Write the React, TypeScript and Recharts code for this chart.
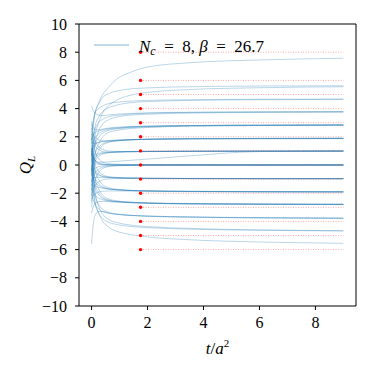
import { ComposedChart, Line, XAxis, YAxis, ReferenceLine, ReferenceDot, Label } from "recharts";

// flow time grid (t/a^2) on which every curve is sampled
const FLOW_T = [0, 0.05, 0.12, 0.25, 0.4, 0.6, 0.9, 1.3, 2, 3.5, 6, 9];

// Q_L(t) per configuration
const CURVES: number[][] = [
    [2.0, 2.8, 3.6, 4.4, 5.0, 5.5, 6.1, 6.5, 6.95, 7.25, 7.45, 7.57],
    [1.5, 2.6, 3.7, 4.3, 4.8, 5.05, 5.25, 5.38, 5.47, 5.55, 5.6, 5.62],
    [-0.5, 0.8, 2.0, 3.0, 3.7, 4.2, 4.6, 4.9, 5.15, 5.35, 5.48, 5.55],
    [2.5, 3.1, 3.7, 4.0, 4.2, 4.35, 4.45, 4.52, 4.58, 4.63, 4.66, 4.68],
    [0.3, 1.6, 2.7, 3.4, 3.8, 4.05, 4.25, 4.4, 4.5, 4.58, 4.63, 4.65],
    [4.2, 3.9, 3.7, 3.55, 3.5, 3.55, 3.6, 3.65, 3.7, 3.74, 3.77, 3.78],
    [1.0, 1.8, 2.5, 3.0, 3.25, 3.42, 3.52, 3.6, 3.67, 3.73, 3.76, 3.78],
    [-1.2, 0.2, 1.4, 2.4, 2.9, 3.2, 3.4, 3.52, 3.6, 3.68, 3.73, 3.75],
    [2.9, 2.7, 2.5, 2.5, 2.55, 2.62, 2.68, 2.72, 2.76, 2.8, 2.83, 2.84],
    [0.6, 1.3, 1.9, 2.2, 2.4, 2.52, 2.6, 2.67, 2.73, 2.79, 2.82, 2.84],
    [-2.0, -0.6, 0.7, 1.5, 2.0, 2.3, 2.45, 2.57, 2.66, 2.75, 2.8, 2.83],
    [1.8, 2.1, 2.3, 2.4, 2.5, 2.58, 2.64, 2.7, 2.75, 2.8, 2.83, 2.85],
    [-0.4, 0.6, 1.4, 1.95, 2.25, 2.45, 2.56, 2.64, 2.7, 2.77, 2.8, 2.82],
    [2.4, 2.2, 2.0, 1.78, 1.7, 1.7, 1.74, 1.78, 1.82, 1.86, 1.88, 1.89],
    [-0.8, 0.1, 0.8, 1.25, 1.5, 1.64, 1.72, 1.78, 1.82, 1.86, 1.88, 1.89],
    [0.9, 1.2, 1.45, 1.6, 1.68, 1.73, 1.77, 1.8, 1.83, 1.86, 1.87, 1.88],
    [-2.6, -1.2, 0.2, 1.0, 1.4, 1.6, 1.7, 1.77, 1.83, 1.87, 1.89, 1.9],
    [1.6, 1.55, 1.55, 1.6, 1.66, 1.71, 1.75, 1.79, 1.82, 1.85, 1.86, 1.87],
    [2.2, 1.8, 1.4, 1.1, 0.95, 0.92, 0.93, 0.95, 0.96, 0.97, 0.98, 0.99],
    [-1.5, -0.6, 0.2, 0.6, 0.78, 0.86, 0.9, 0.93, 0.95, 0.97, 0.98, 0.99],
    [0.2, 0.5, 0.7, 0.82, 0.88, 0.91, 0.93, 0.95, 0.96, 0.97, 0.98, 0.98],
    [0.8, 0.5, 0.3, 0.2, 0.2, 0.22, 0.26, 0.32, 0.42, 0.65, 0.95, 0.99],
    [3.1, 2.4, 1.8, 1.3, 1.1, 1.0, 0.96, 0.96, 0.97, 0.98, 0.99, 1.0],
    [-0.3, 0.2, 0.5, 0.72, 0.83, 0.88, 0.92, 0.94, 0.96, 0.97, 0.98, 0.98],
    [1.2, 0.7, 0.35, 0.15, 0.06, 0.03, 0.02, 0.01, 0.01, 0, 0, 0],
    [-1.8, -1.1, -0.6, -0.3, -0.15, -0.08, -0.04, -0.02, -0.01, 0, 0, 0],
    [0.3, 0.2, 0.1, 0.05, 0.02, 0.01, 0, 0, 0, 0, 0, 0],
    [2.6, 1.8, 1.0, 0.45, 0.2, 0.1, 0.05, 0.03, 0.02, 0.01, 0, 0],
    [-0.7, -0.45, -0.25, -0.12, -0.06, -0.03, -0.02, -0.01, 0, 0, 0, 0],
    [-3.0, -2.0, -1.2, -0.55, -0.25, -0.12, -0.06, -0.03, -0.01, 0, 0.01, 0.02],
    [0.9, 0.55, 0.3, 0.12, 0.05, 0.02, 0.01, 0, 0, 0, -0.01, -0.01],
    [1.0, 0.2, -0.35, -0.65, -0.8, -0.87, -0.91, -0.93, -0.95, -0.96, -0.97, -0.97],
    [-2.2, -1.8, -1.45, -1.2, -1.05, -0.99, -0.96, -0.95, -0.95, -0.96, -0.97, -0.97],
    [0, -0.3, -0.55, -0.72, -0.82, -0.87, -0.9, -0.92, -0.94, -0.95, -0.96, -0.96],
    [2.0, 1.0, 0.1, -0.45, -0.7, -0.82, -0.88, -0.92, -0.94, -0.96, -0.97, -0.98],
    [-1.0, -0.92, -0.88, -0.87, -0.88, -0.9, -0.92, -0.93, -0.95, -0.96, -0.97, -0.97],
    [0.5, -0.3, -0.9, -1.3, -1.55, -1.68, -1.75, -1.8, -1.84, -1.88, -1.9, -1.91],
    [-2.4, -2.2, -2.05, -1.92, -1.86, -1.84, -1.84, -1.85, -1.87, -1.89, -1.9, -1.91],
    [-0.6, -0.9, -1.2, -1.45, -1.6, -1.7, -1.76, -1.8, -1.84, -1.87, -1.89, -1.9],
    [1.9, 0.7, -0.3, -1.0, -1.4, -1.6, -1.72, -1.79, -1.84, -1.88, -1.91, -1.92],
    [-1.4, -1.45, -1.5, -1.58, -1.65, -1.71, -1.76, -1.8, -1.83, -1.86, -1.88, -1.89],
    [-0.2, -0.9, -1.6, -2.1, -2.38, -2.52, -2.6, -2.66, -2.71, -2.75, -2.78, -2.79],
    [-3.4, -3.0, -2.75, -2.6, -2.58, -2.6, -2.63, -2.67, -2.71, -2.75, -2.78, -2.79],
    [1.4, 0.2, -0.9, -1.7, -2.15, -2.4, -2.54, -2.62, -2.69, -2.75, -2.78, -2.8],
    [-1.6, -1.9, -2.15, -2.35, -2.47, -2.55, -2.6, -2.64, -2.69, -2.73, -2.76, -2.78],
    [0.8, -0.3, -1.3, -1.95, -2.3, -2.48, -2.58, -2.65, -2.71, -2.76, -2.79, -2.81],
    [-5.6, -4.4, -3.6, -3.3, -3.3, -3.4, -3.5, -3.57, -3.64, -3.7, -3.75, -3.78],
    [0.2, -1.0, -2.1, -2.8, -3.15, -3.35, -3.47, -3.55, -3.62, -3.69, -3.75, -3.78],
    [-2.0, -2.4, -2.8, -3.1, -3.3, -3.42, -3.5, -3.56, -3.62, -3.68, -3.73, -3.76],
    [-1.0, -1.9, -2.7, -3.4, -3.8, -4.05, -4.22, -4.34, -4.44, -4.55, -4.63, -4.68],
    [1.2, -0.4, -1.8, -2.9, -3.5, -3.85, -4.08, -4.24, -4.37, -4.5, -4.6, -4.66],
    [-0.3, -1.4, -2.5, -3.4, -4.0, -4.4, -4.7, -4.9, -5.1, -5.3, -5.46, -5.55],
];

// integer charges marked in red
const MARK_Q = [8, 6, 5, 4, 3, 2, 1, 0, -1, -2, -3, -4, -5, -6];
const MARK_T = 1.75;
const MARK_END = 9;

const X_TICKS = [0, 2, 4, 6, 8];
const Y_TICKS = [-10, -8, -6, -4, -2, 0, 2, 4, 6, 8, 10];
const X_DOMAIN: [number, number] = [-0.45, 9.45];
const Y_DOMAIN: [number, number] = [-10, 10];

const BLUE = "#1f77b4";
const FONT = "Liberation Serif, DejaVu Serif, serif";

const rows = FLOW_T.map((t, i) => {
    const row: Record<string, number> = { t };
    CURVES.forEach((c, k) => {
        row[`c${k}`] = c[i];
    });
    return row;
});

const fmt = (v: number) => String(v).replace("-", "\u2212");

const LegendBox = () => (
    <div
        style={{
            position: "absolute",
            left: 94,
            top: 35,
            display: "flex",
            alignItems: "center",
            fontFamily: FONT,
            fontSize: 17,
            color: "#000",
            lineHeight: "18px",
        }}
    >
        <svg width={36} height={4}>
            <line x1={0} y1={2} x2={35} y2={2} stroke={BLUE} strokeOpacity={0.55} strokeWidth={1.2} />
        </svg>
        <span style={{ marginLeft: 9, position: "relative", top: 3, whiteSpace: "nowrap" }}>
            <i>N</i>
            <i style={{ fontSize: 12, position: "relative", top: 3 }}>c</i>
            {"\u2002=\u20028, "}
            <i>β</i>
            {"\u2002=\u200226.7"}
        </span>
    </div>
);

const XTitle = ({ viewBox }: any) => {
    const cx = viewBox.x + viewBox.width / 2;
    return (
        <text x={cx} y={viewBox.y + 48} textAnchor="middle" fontFamily={FONT} fontSize={17} fill="#000">
            <tspan fontStyle="italic">t</tspan>
            <tspan>/</tspan>
            <tspan fontStyle="italic">a</tspan>
            <tspan fontSize={11} dy={-7}>2</tspan>
        </text>
    );
};

const YTitle = ({ viewBox }: any) => {
    const cy = viewBox.y + viewBox.height / 2;
    const x = 31;
    return (
        <text x={x} y={cy} transform={`rotate(-90 ${x} ${cy})`} textAnchor="middle" fontFamily={FONT} fontSize={17} fill="#000">
            <tspan fontStyle="italic">Q</tspan>
            <tspan fontStyle="italic" fontSize={11} dy={4}>L</tspan>
        </text>
    );
};

export default function App() {
    return (
        <div style={{ position: "absolute", left: 0, top: 0, width: 374, height: 374 }}>
            <ComposedChart width={374} height={374} data={rows} margin={{ top: 24, right: 18, left: 0, bottom: 0 }}>
                <XAxis
                    dataKey="t"
                    type="number"
                    domain={X_DOMAIN}
                    ticks={X_TICKS}
                    allowDataOverflow
                    height={68}
                    stroke="#000"
                    tickSize={4}
                    tickMargin={7}
                    tick={{ fill: "#000", fontFamily: FONT, fontSize: 16 }}
                    tickFormatter={fmt}
                >
                    <Label content={<XTitle />} />
                </XAxis>
                <YAxis
                    type="number"
                    domain={Y_DOMAIN}
                    ticks={Y_TICKS}
                    allowDataOverflow
                    width={79}
                    stroke="#000"
                    tickSize={4}
                    tickMargin={8}
                    tick={{ fill: "#000", fontFamily: FONT, fontSize: 16 }}
                    tickFormatter={fmt}
                >
                    <Label content={<YTitle />} />
                </YAxis>
                <ReferenceLine y={Y_DOMAIN[1]} stroke="#000" />
                <ReferenceLine x={X_DOMAIN[1]} stroke="#000" />
                {CURVES.map((_, k) => (
                    <Line
                        key={k}
                        dataKey={`c${k}`}
                        type="monotone"
                        stroke={BLUE}
                        strokeOpacity={0.3}
                        strokeWidth={1}
                        dot={false}
                        activeDot={false}
                        isAnimationActive={false}
                        legendType="none"
                    />
                ))}
                {MARK_Q.map((q) => (
                    <ReferenceLine
                        key={`l${q}`}
                        segment={[{ x: MARK_T, y: q }, { x: MARK_END, y: q }]}
                        stroke="#ff0000"
                        strokeOpacity={0.35}
                        strokeDasharray="1 1.5"
                    />
                ))}
                {MARK_Q.map((q) => (
                    <ReferenceDot key={`d${q}`} x={MARK_T} y={q} r={1.7} fill="#ff0000" stroke="none" />
                ))}
            </ComposedChart>
            <LegendBox />
        </div>
    );
}
